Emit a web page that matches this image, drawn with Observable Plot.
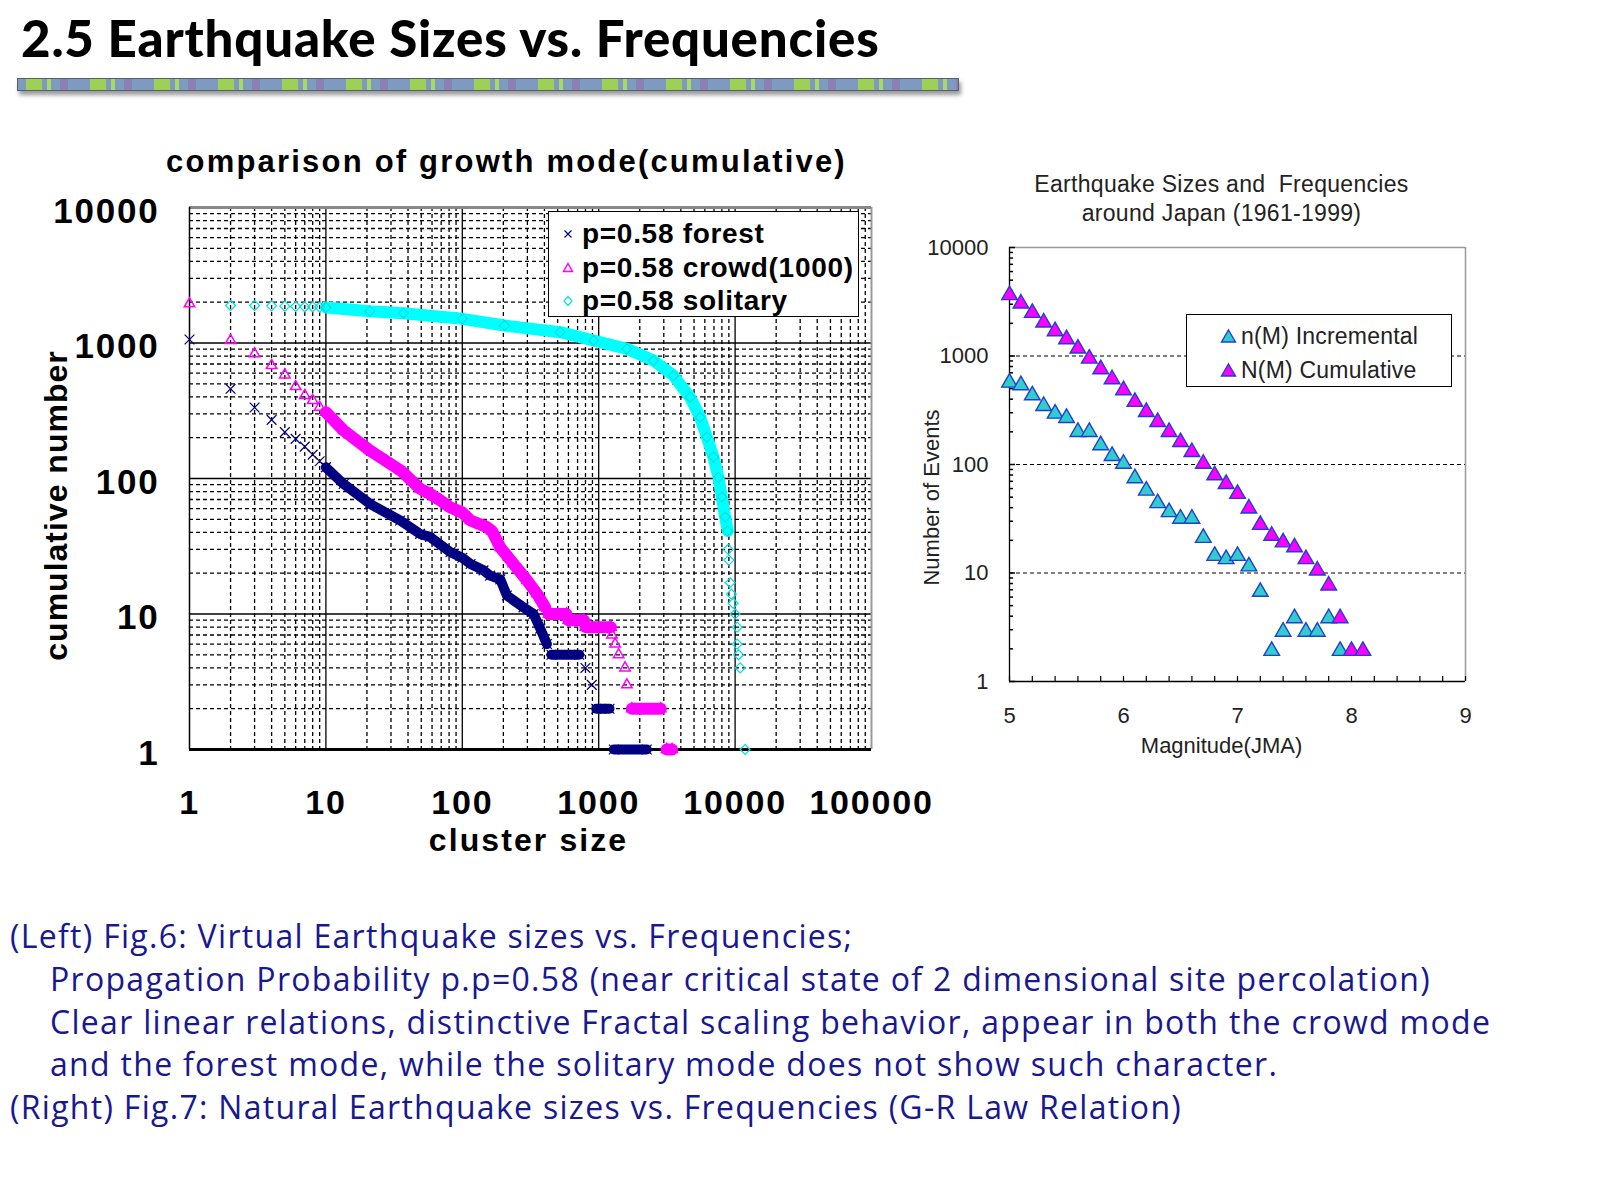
<!DOCTYPE html>
<html>
<head>
<meta charset="utf-8">
<script src="https://cdn.jsdelivr.net/npm/d3@7"></script>
<script src="https://cdn.jsdelivr.net/npm/@observablehq/plot@0.6"></script>
<style>
  html, body { margin: 0; padding: 0; background: #fff; }
  body { width: 1600px; height: 1200px; position: relative; overflow: hidden; font-family: "Liberation Sans", Arial, sans-serif; }
  svg text { white-space: pre; }
  #title { position: absolute; left: 21px; top: 7px; font-family: Lato, "DejaVu Sans", sans-serif; font-weight: 900; font-size: 51px; color: #000; white-space: nowrap; letter-spacing: 0.8px; }
  #bar { position: absolute; left: 17px; top: 78px; width: 940px; height: 11px; border: 1px solid #55606e;
    background:
      repeating-linear-gradient(90deg, transparent 0 8px, #9fcf55 8px 24px, transparent 24px 29px, #a6d86a 29px 33px, transparent 33px 64px),
      repeating-linear-gradient(90deg, #7f9abf 0 42px, #8c7fb4 42px 50px, #7f9abf 50px 64px);
    box-shadow: 2px 4px 4px #9a9a9a; }
  #left { position: absolute; left: 0; top: 130px; width: 900px; }
  #right { position: absolute; left: 900px; top: 160px; width: 600px; }
  .legend { position: absolute; background: #fff; border: 1.5px solid #000; box-sizing: border-box; }
  .legend .row { position: absolute; display: flex; align-items: center; white-space: pre; }
  #legL { left: 548px; top: 211px; width: 311px; height: 106px; }
  #legL .row { left: 12px; font: bold 28px "Liberation Sans", Arial, sans-serif; letter-spacing: 0.7px; color: #000; }
  #legL .row svg { margin-right: 7px; }
  #legR { left: 1186px; top: 314px; width: 266px; height: 73px; border-width: 1px; }
  #legR .row { left: 33px; font: 23px "Liberation Sans", Arial, sans-serif; color: #222; letter-spacing: 0.2px; }
  #legR .row svg { margin-right: 4px; }
  #caption { position: absolute; left: 10px; top: 915px; color: #18188f; font-family: "Open Sans", "Noto Sans", sans-serif; font-size: 32px; line-height: 42.8px; white-space: pre; letter-spacing: 1.3px; }
  #caption .ind { padding-left: 40px; }
</style>
</head>
<body>
<div id="title"></div>
<div id="bar"></div>
<div id="left"></div>
<div id="right"></div>
<div id="legL" class="legend"></div>
<div id="legR" class="legend"></div>
<div id="caption"></div>
<script>
// ---------- text ----------
const pageTitle = "2.5 Earthquake Sizes vs. Frequencies";
const leftTitle = "comparison of growth mode(cumulative)";
const leftXLabel = "cluster size";
const leftYLabel = "cumulative number";
const leftLegend = ["p=0.58 forest", "p=0.58 crowd(1000)", "p=0.58 solitary"];
const rightTitle = ["Earthquake Sizes and  Frequencies", "around Japan (1961-1999)"];
const rightXLabel = "Magnitude(JMA)";
const rightYLabel = "Number of Events";
const rightLegend = ["n(M) Incremental", "N(M) Cumulative"];
const captionLines = [
  "(Left) Fig.6: Virtual Earthquake sizes vs. Frequencies;",
  "Propagation Probability p.p=0.58 (near critical state of 2 dimensional site percolation)",
  "Clear linear relations, distinctive Fractal scaling behavior, appear in both the crowd mode",
  "and the forest mode, while the solitary mode does not show such character.",
  "(Right) Fig.7: Natural Earthquake sizes vs. Frequencies (G-R Law Relation)"
];
const captionIndent = [false, true, true, true, false];

// ---------- left chart ticks ----------
const xDecades = [1, 10, 100, 1000, 10000, 100000];
const yDecades = [1, 10, 100, 1000, 10000];

// ---------- left chart data (cluster size, cumulative number, run id; run 0 = single markers) ----------
const forestSize  = [1, 2, 3, 4, 5, 6, 7, 8, 9, 10,
                     10, 13.5, 21, 35, 49, 58, 82, 100, 115, 143, 160, 190, 212, 281, 333, 373, 417,
                     450, 720, 800, 890, 960, 1200, 1290, 2250];
const forestCount = [1062, 459, 334, 271, 220, 196, 172, 150, 134, 121,
                     121, 91, 65, 49, 39, 37, 28.6, 26, 23.4, 21, 19.2, 18, 13.7, 11.2, 10, 7.8, 6.0,
                     5, 5, 4, 3, 2, 2, 1, 1];
const forestRun   = [0, 0, 0, 0, 0, 0, 0, 0, 0, 0,
                     1, 1, 1, 1, 1, 1, 1, 1, 1, 1, 1, 1, 1, 1, 1, 1, 1,
                     2, 2, 0, 0, 3, 3, 4, 4];

const crowdSize  = [1, 2, 3, 4, 5, 6, 7, 8, 9, 10,
                    10, 13.5, 21, 36, 49, 58, 69, 82, 100, 115, 150, 165, 190, 237, 298, 353, 405,
                    430, 580, 600, 780, 800, 1230, 1250, 1320, 1400, 1560, 1610, 1750, 2850, 3150, 3450];
const crowdCount = [1946, 1043, 832, 682, 582, 477, 410, 377, 336, 308,
                    308, 226, 161, 113, 84, 77, 69, 61, 56, 49, 44, 41, 31, 23.5, 17.7, 14.1, 11.2,
                    10, 10, 9, 9, 8, 8, 7, 6, 5, 4, 3, 2, 2, 1, 1];
const crowdRun   = [0, 0, 0, 0, 0, 0, 0, 0, 0, 0,
                    1, 1, 1, 1, 1, 1, 1, 1, 1, 1, 1, 1, 1, 1, 1, 1, 1,
                    2, 2, 3, 3, 4, 4, 0, 0, 0, 0, 0, 5, 5, 6, 6];

const solSize  = [2, 3, 4, 5, 6, 7, 8, 9, 10,
                  10, 21, 37, 100, 204, 522, 916, 1610, 2520, 3530, 4680, 5540, 6210, 6940, 7550, 7990, 8450, 8840,
                  8900, 9000, 9190, 9400, 9670, 10000, 10350, 10350, 10600, 10900, 11830];
const solCount = [1890, 1890, 1880, 1870, 1860, 1850, 1850, 1840, 1830,
                  1830, 1718, 1660, 1508, 1346, 1202, 1043, 906, 742, 575, 398, 283, 202, 144, 102, 73, 52, 41,
                  30, 25, 17, 14, 12, 10, 8, 6, 5, 4, 1];
const solRun   = [0, 0, 0, 0, 0, 0, 0, 0, 0,
                  1, 1, 1, 1, 1, 1, 1, 1, 1, 1, 1, 1, 1, 1, 1, 1, 1, 1,
                  0, 0, 0, 0, 0, 0, 0, 0, 0, 0, 0];

// ---------- right chart data ----------
const magnitude = [5.0, 5.1, 5.2, 5.3, 5.4, 5.5, 5.6, 5.7, 5.8, 5.9,
                   6.0, 6.1, 6.2, 6.3, 6.4, 6.5, 6.6, 6.7, 6.8, 6.9,
                   7.0, 7.1, 7.2, 7.3, 7.4, 7.5, 7.6, 7.7, 7.8, 7.9, 8.0, 8.1];
const incremental = [593, 561, 453, 361, 307, 280, 208, 208, 157, 125,
                     106, 78, 60, 46, 38, 33, 33, 22, 15, 14,
                     15, 12, 7, 2, 3, 4, 3, 3, 4, 2];
const cumulative = [3802, 3177, 2607, 2123, 1767, 1491, 1222, 988, 788, 637,
                    505, 394, 318, 257, 208, 168, 136, 106, 83, 69,
                    56, 41, 29, 23, 20, 18, 14, 11, 8, 4, 2, 2];
const magLabels = [5, 6, 7, 8, 9];

// ---------- build ----------
const rows = (xs, ys, runs) => xs.map((x, i) => ({x, y: ys[i], run: runs[i]}));
const forest = rows(forestSize, forestCount, forestRun);
const crowd = rows(crowdSize, crowdCount, crowdRun);
const solitary = rows(solSize, solCount, solRun);
const minorOf = decs => decs.slice(0, -1).flatMap(d => [2, 3, 4, 5, 6, 7, 8, 9].map(k => d * k));
const fmt = d3.format("d");

const NAVY = "#000080", MAG = "#ff00ff", CYAN = "#00ffff";
const boldText = {fontWeight: "bold", textAnchor: "middle", lineAnchor: "middle", fill: "#000", text: d => d};

const left = Plot.plot({
  width: 900, height: 740,
  marginLeft: 189, marginRight: 29, marginTop: 77, marginBottom: 121,
  x: {type: "log", domain: [1, 100000]},
  y: {type: "log", domain: [1, 10000]},
  style: {fontFamily: "'Liberation Sans', Arial, sans-serif", background: "transparent", overflow: "visible"},
  marks: [
    Plot.ruleX(minorOf(xDecades), {stroke: "#000", strokeWidth: 1.3, strokeDasharray: "4,3"}),
    Plot.ruleY(minorOf(yDecades), {stroke: "#000", strokeWidth: 1.3, strokeDasharray: "4,3"}),
    Plot.ruleX(xDecades.slice(1, -1), {stroke: "#000", strokeWidth: 1.3}),
    Plot.ruleY(yDecades.slice(1, -1), {stroke: "#000", strokeWidth: 1.3}),
    Plot.ruleX([xDecades[xDecades.length - 1]], {stroke: "#999", strokeWidth: 2}),
    Plot.ruleY([yDecades[yDecades.length - 1]], {stroke: "#888", strokeWidth: 3}),
    Plot.ruleX([xDecades[0]], {stroke: "#000", strokeWidth: 1.5}),
    Plot.ruleY([yDecades[0]], {stroke: "#000", strokeWidth: 3}),
    // solitary
    Plot.line(solitary.filter(d => d.run > 0), {x: "x", y: "y", z: "run", stroke: CYAN, strokeWidth: 12}),
    Plot.dot(solitary, {x: "x", y: "y", symbol: "diamond2", r: 4.5, stroke: "#00e0e0", strokeWidth: 1.2}),
    // forest
    Plot.line(forest.filter(d => d.run > 0), {x: "x", y: "y", z: "run", stroke: NAVY, strokeWidth: 10}),
    Plot.dot(forest, {x: "x", y: "y", symbol: "times", r: 4.5, stroke: NAVY, strokeWidth: 1.2}),
    // crowd
    Plot.line(crowd.filter(d => d.run > 0), {x: "x", y: "y", z: "run", stroke: MAG, strokeWidth: 12}),
    Plot.dot(crowd, {x: "x", y: "y", symbol: "triangle2", r: 5, stroke: MAG, strokeWidth: 1.5}),
    // axes
    Plot.axisY(yDecades, {tickSize: 0, tickPadding: 30, dy: 4, fontSize: 35, fontWeight: "bold", tickFormat: fmt, label: null, fill: "#000"}),
    Plot.axisX(xDecades, {tickSize: 0, tickPadding: 40, fontSize: 34, fontWeight: "bold", tickFormat: fmt, label: null, fill: "#000"}),
    Plot.text([leftTitle], {...boldText, frameAnchor: "top", dx: -24, dy: -45, fontSize: 31}),
    Plot.text([leftXLabel], {...boldText, frameAnchor: "bottom", dx: -2, dy: 91, fontSize: 32}),
    Plot.text([leftYLabel], {...boldText, frameAnchor: "left", dx: -133, dy: 27, rotate: -90, fontSize: 32})
  ]
});
left.querySelectorAll("text").forEach(t => {
  const s = t.textContent;
  if (s === leftTitle) t.style.letterSpacing = "2.2px";
  else if (s === leftXLabel) t.style.letterSpacing = "2.1px";
  else if (s === leftYLabel) t.style.letterSpacing = "1px";
  else if (xDecades.map(fmt).includes(s)) t.style.letterSpacing = "1.8px";
});
document.getElementById("left").appendChild(left);

const incr = incremental.map((v, i) => ({m: magnitude[i], n: v}));
const cumu = cumulative.map((v, i) => ({m: magnitude[i], n: v}));
const magTicks = d3.range(50, 91, 2).map(v => v / 10);
const thinText = {textAnchor: "middle", lineAnchor: "middle", fill: "#222", fontSize: 22, text: d => d};

const right = Plot.plot({
  width: 600, height: 620,
  marginLeft: 109, marginRight: 35, marginTop: 87, marginBottom: 99,
  x: {domain: [5, 9]},
  y: {type: "log", domain: [1, 10000]},
  style: {fontFamily: "'Liberation Sans', Arial, sans-serif", background: "transparent", overflow: "visible"},
  marks: [
    Plot.ruleY(yDecades.slice(1, -1), {stroke: "#000", strokeWidth: 1, strokeDasharray: "4,3"}),
    Plot.ruleX([9], {stroke: "#999", strokeWidth: 1.5}),
    Plot.ruleY([10000], {stroke: "#999", strokeWidth: 1.5}),
    Plot.axisY(minorOf(yDecades), {tickSize: -4, tickFormat: () => "", label: null, stroke: "#000", strokeWidth: 1.5}),
    Plot.axisY(yDecades, {tickSize: -6, tickFormat: () => "", label: null, stroke: "#000", strokeWidth: 1.5}),
    Plot.axisX(magTicks, {tickSize: -5, tickFormat: () => "", label: null, stroke: "#000", strokeWidth: 1.2}),
    Plot.ruleX([5], {stroke: "#000", strokeWidth: 1.3}),
    Plot.ruleY([1], {stroke: "#000", strokeWidth: 1.3}),
    Plot.axisY(yDecades, {tickSize: 0, tickPadding: 21, fontSize: 22, tickFormat: fmt, label: null, fill: "#222"}),
    Plot.axisX(magLabels, {tickSize: 0, tickPadding: 26, fontSize: 22, tickFormat: fmt, label: null, fill: "#222"}),
    Plot.dot(incr, {x: "m", y: "n", symbol: "triangle", r: 5.8, dy: 2, fill: "#33cccc", stroke: "#1f3fd0", strokeWidth: 1.4}),
    Plot.dot(cumu, {x: "m", y: "n", symbol: "triangle", r: 5.8, dy: 2, fill: "#ff00ff", stroke: "#1f3fd0", strokeWidth: 1.4}),
    Plot.text([rightTitle[0]], {...thinText, frameAnchor: "top", dx: -16, dy: -63, fontSize: 23}),
    Plot.text([rightTitle[1]], {...thinText, frameAnchor: "top", dx: -16, dy: -34, fontSize: 23}),
    Plot.text([rightXLabel], {...thinText, frameAnchor: "bottom", dx: -16, dy: 64}),
    Plot.text([rightYLabel], {...thinText, frameAnchor: "left", dx: -78, dy: 33, rotate: -90})
  ]
});
right.querySelectorAll("text").forEach(t => {
  if (rightTitle.includes(t.textContent)) t.style.letterSpacing = "0.3px";
});
document.getElementById("right").appendChild(right);

// ---------- legends ----------
function icon(kind, color) {
  const ns = "http://www.w3.org/2000/svg";
  const s = document.createElementNS(ns, "svg");
  s.setAttribute("width", kind === "fill" ? 17 : 14);
  s.setAttribute("height", 16);
  const p = document.createElementNS(ns, "path");
  if (kind === "times") {
    p.setAttribute("d", "M3.5,4.5L10.5,11.5M10.5,4.5L3.5,11.5");
    p.setAttribute("stroke", color); p.setAttribute("stroke-width", 1.2); p.setAttribute("fill", "none");
  } else if (kind === "tri") {
    p.setAttribute("d", "M7,3.5L11.5,11.5L2.5,11.5Z");
    p.setAttribute("stroke", color); p.setAttribute("stroke-width", 1.5); p.setAttribute("fill", "none");
  } else if (kind === "dia") {
    p.setAttribute("d", "M7,3.5L11,8L7,12.5L3,8Z");
    p.setAttribute("stroke", color); p.setAttribute("stroke-width", 1.2); p.setAttribute("fill", "none");
  } else {
    p.setAttribute("d", "M8.5,2L15.5,14L1.5,14Z");
    p.setAttribute("stroke", "#1f3fd0"); p.setAttribute("stroke-width", 1.4); p.setAttribute("fill", color);
  }
  s.appendChild(p);
  return s;
}
const legL = document.getElementById("legL");
const legLKinds = [["times", NAVY], ["tri", MAG], ["dia", "#00e0e0"]];
const legLRowY = [22, 56, 89];
leftLegend.forEach((t, i) => {
  const r = document.createElement("div");
  r.className = "row";
  r.style.top = (legLRowY[i] - 17) + "px";
  r.style.height = "34px";
  r.appendChild(icon(legLKinds[i][0], legLKinds[i][1]));
  r.appendChild(document.createTextNode(t));
  legL.appendChild(r);
});
const legR = document.getElementById("legR");
const legRColors = ["#33cccc", "#ff00ff"];
const legRRowY = [21, 55];
rightLegend.forEach((t, i) => {
  const r = document.createElement("div");
  r.className = "row";
  r.style.top = (legRRowY[i] - 14) + "px";
  r.style.height = "28px";
  r.appendChild(icon("fill", legRColors[i]));
  r.appendChild(document.createTextNode(t));
  legR.appendChild(r);
});

document.getElementById("title").textContent = pageTitle;
const cap = document.getElementById("caption");
captionLines.forEach((t, i) => {
  const d = document.createElement("div");
  if (captionIndent[i]) d.className = "ind";
  d.textContent = t;
  cap.appendChild(d);
});
</script>
</body>
</html>
